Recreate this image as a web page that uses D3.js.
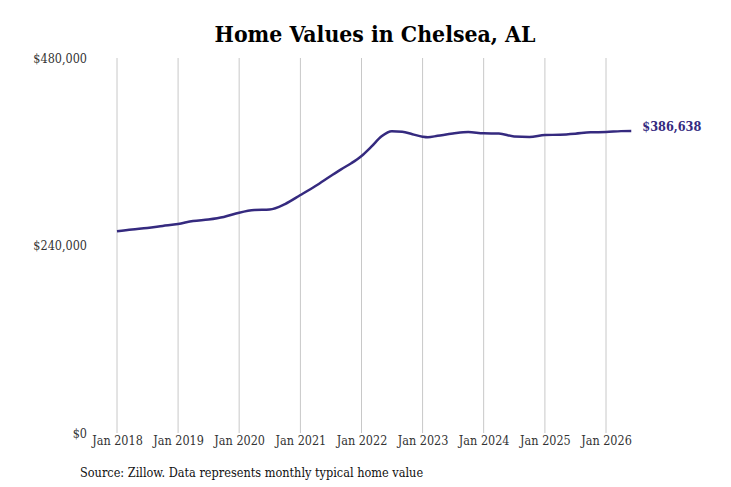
<!DOCTYPE html>
<html>
<head>
<meta charset="UTF-8">
<style>
  body { margin: 0; background: #fff; }
  text { font-family: "DejaVu Serif Condensed", "DejaVu Serif", serif; font-stretch: condensed; }
</style>
</head>
<body>
<div id="chart"></div>
<script src="https://d3js.org/d3.v7.min.js"></script>
<script>
// months since Jan 2018 and typical home value
const months = [0, 3, 6, 9, 12, 15, 18, 21, 24, 27, 30, 33, 36, 39, 42, 44, 46, 48, 50, 52, 54, 56, 58, 60, 61, 63, 66, 69, 72, 75, 78, 81, 84, 87, 90, 93, 96, 99, 101];
const values = [258200, 260500, 262400, 265000, 267500, 271400, 273300, 276500, 282000, 285400, 286100, 293100,
  304600, 316200, 329000, 337500, 345300, 354600, 366500, 379800, 386400, 385600, 382500, 379300, 378600, 380400, 383300, 385300, 383600,
  383400, 379500, 378900, 381400, 381800, 383100, 384900, 385300, 386400, 386638];
const yearTicks = [2018, 2019, 2020, 2021, 2022, 2023, 2024, 2025, 2026];
const yTicks = [0, 240000, 480000];
const lastLabel = "$386,638";

const W = 731, H = 487;
const plotLeft = 117, plotRight = 606, plotTop = 58, plotBottom = 433;

const data = months.map((m, i) => ({ date: new Date(2018, m, 1), value: values[i] }));

const svg = d3.select("#chart").append("svg")
  .attr("width", W).attr("height", H);

const x = d3.scaleTime()
  .domain([new Date(2018, 0, 1), new Date(2026, 0, 1)])
  .range([plotLeft, plotRight]);
const y = d3.scaleLinear().domain([0, 480000]).range([plotBottom, plotTop]);

// title
svg.append("text")
  .attr("x", 375).attr("y", 42)
  .attr("text-anchor", "middle")
  .style("font-size", "22.8px").style("font-weight", "bold")
  .text("Home Values in Chelsea, AL");

// vertical grid
svg.append("g")
  .selectAll("line")
  .data(yearTicks)
  .enter().append("line")
  .attr("x1", d => x(new Date(d, 0, 1))).attr("x2", d => x(new Date(d, 0, 1)))
  .attr("y1", plotTop).attr("y2", plotBottom)
  .attr("stroke", "#c8c8c8").attr("stroke-width", 1);

// x axis labels
const xAxis = svg.append("g")
  .attr("transform", "translate(0," + plotBottom + ")")
  .call(d3.axisBottom(x)
    .tickValues(yearTicks.map(d => new Date(d, 0, 1)))
    .tickFormat(d3.timeFormat("Jan %Y"))
    .tickSize(0).tickPadding(3));
xAxis.select(".domain").remove();
xAxis.selectAll("text").style("font-size", "12.5px").attr("fill", "#333");

// y axis labels
const yAxis = svg.append("g")
  .attr("transform", "translate(" + 87 + ",0)")
  .call(d3.axisLeft(y)
    .tickValues(yTicks)
    .tickFormat(d => "$" + d3.format(",")(d))
    .tickSize(0).tickPadding(0));
yAxis.select(".domain").remove();
yAxis.selectAll("text").style("font-size", "12.5px").attr("fill", "#333");

// line
const line = d3.line()
  .x(d => x(d.date))
  .y(d => y(d.value))
  .curve(d3.curveMonotoneX);

svg.append("path")
  .datum(data)
  .attr("fill", "none")
  .attr("stroke", "#352a7f")
  .attr("stroke-width", 2.5)
  .attr("d", line);

const last = data[data.length - 1];
svg.append("text")
  .attr("x", x(last.date) + 11)
  .attr("y", y(last.value) - 4)
  .attr("dy", "0.35em")
  .attr("fill", "#352a7f")
  .style("font-size", "12.6px").style("font-weight", "bold")
  .text(lastLabel);

// source
svg.append("text")
  .attr("x", 80).attr("y", 477)
  .style("font-size", "12.6px").attr("fill", "#111")
  .text("Source: Zillow. Data represents monthly typical home value");
</script>
</body>
</html>
